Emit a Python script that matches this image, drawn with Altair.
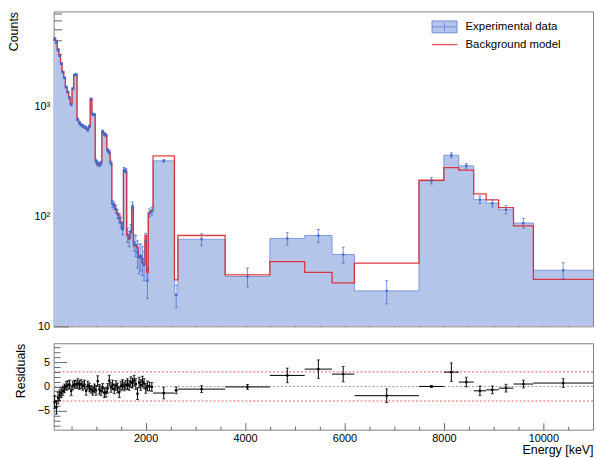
import altair as alt
import pandas as pd

# ---------------- data ----------------
bin_edges = [150, 190, 222, 255, 288, 320, 353, 386, 420, 453, 486, 520, 553, 586, 620, 653,
             686, 720, 753, 786, 820, 853, 886, 920, 953, 986, 1020, 1053, 1086, 1120, 1153,
             1186, 1220, 1253, 1286, 1320, 1353, 1386, 1420, 1453, 1486, 1520, 1553, 1586,
             1620, 1653, 1686, 1720, 1753, 1786, 1820, 1853, 1886, 1920, 1953, 1986, 2020,
             2053, 2100, 2150, 2580, 2650, 3600, 4500, 5200, 5750, 6200, 7500, 8000, 8300,
             8600, 8850, 9100, 9400, 9800, 11000]

data_counts = [4050, 3800, 3250, 2900, 2450, 2050, 1820, 1500, 1350, 1200,
               1040, 1450, 1930, 1950, 760, 710, 680, 665, 650, 638,
               612, 660, 1165, 850, 840, 318, 300, 296, 305, 592,
               560, 545, 400, 385, 306, 130, 125, 117, 105, 97,
               88, 77, 265, 260, 68, 63, 74, 125, 58, 55,
               47, 43, 44, 41, 37, 60, 26, 108, 112,
               320, 19.3, 62, 28.4, 63, 67, 45, 21, 211, 360, 288, 142, 132, 115, 87, 32.4]

data_errors = [70, 65, 55, 50, 45, 40, 35, 30, 28, 26,
               24, 30, 36, 36, 20, 19, 18, 18, 18, 17,
               17, 18, 26, 21, 21, 13, 13, 13, 13, 17,
               17, 16, 14, 14, 13, 10, 10, 10, 10, 10,
               10, 9, 13, 13, 10, 10, 10, 10, 10, 12,
               13, 13, 12, 12, 11, 10, 8, 9, 9,
               8, 4.5, 7.5, 5.5, 8, 9, 7.5, 5, 14, 18, 14, 11, 10, 10, 9, 5.5]

model_counts = [4200, 3950, 3330, 2960, 2490, 2070, 1830, 1500, 1345, 1195,
                1060, 1445, 1920, 1945, 755, 708, 676, 664, 647, 644,
                611, 662, 1175, 860, 844, 321, 295, 299, 308, 594,
                570, 553, 402, 378, 307, 129, 127, 116, 106, 102,
                88, 76, 265, 258, 67, 62, 71, 120, 54, 54,
                52, 42, 43, 38, 36, 67, 31, 108, 112,
                355, 26.5, 67, 29.4, 38.7, 31, 24.8, 37.5, 213, 278, 263, 160, 141, 120, 82, 26.7]

residuals = [-3.2, -4.3, -2.4, -1.8, -1.3, -0.9, -0.4, 0.1, 0.3, 0.4,
             -0.9, 0.2, 0.5, 0.4, 0.6, 0.3, 0.5, 0.1, 0.4, -0.9,
             0.2, -0.2, -0.6, -0.9, -0.4, -0.8, 1.1, -0.6, -0.9, -0.3,
             -1.3, -1.2, -0.4, 1.2, -0.2, 0.3, -0.5, 0.2, -0.3, -1.2,
             0.1, 0.4, 0.0, 0.3, 0.5, 0.2, 0.9, 0.7, 1.2, 0.5,
             -1.5, 0.8, 0.3, 1.0, 0.6, -0.4, 0.1, 0.0, -0.1,
             -1.36, -0.8, -0.55, -0.1, 2.27, 3.57, 2.54, -1.9, 0.0, 2.95, 0.9, -0.9, -0.7, -0.35, 0.5, 0.7]

residual_errors = [1.3, 1.4, 1.2, 1.1, 1.0, 1.0, 0.9, 0.9, 0.9, 0.9,
                   1.0, 0.9, 0.8, 0.8, 1.0, 0.9, 0.9, 0.9, 0.9, 0.9,
                   0.9, 0.9, 0.8, 0.9, 0.9, 1.0, 1.1, 1.0, 1.0, 0.9,
                   1.0, 1.0, 1.0, 1.1, 1.0, 1.0, 1.0, 1.0, 1.0, 1.1,
                   1.0, 1.0, 0.9, 0.9, 1.1, 1.0, 1.1, 1.0, 1.1, 1.1,
                   1.2, 1.1, 1.1, 1.1, 1.0, 1.0, 1.0, 0.9, 0.9,
                   1.2, 0.7, 0.7, 0.5, 1.5, 1.9, 1.6, 1.4, 0.2, 1.9, 1.0, 1.0, 0.8, 0.8, 0.8, 0.9]

series_names = ["Experimental data", "Background model"]
sigma_levels = [3, -3]
zero_level = [0]

x_range = [150, 11000]
y_range = [10, 7300]
res_range = [-8.9, 8.9]

x_major = [2000, 4000, 6000, 8000, 10000]
x_minor = [v for v in range(500, 11000, 500) if v % 2000 != 0]
y_major = [10, 100, 1000]
y_minor = [m * d for d in (10, 100, 1000) for m in range(2, 10) if m * d < 7300]
r_major = [-5, 0, 5]
r_minor = [v for v in range(-8, 9) if v % 5 != 0]

# ---------------- tables ----------------
lo = bin_edges[:-1]
hi = bin_edges[1:]
bins = pd.DataFrame({
    "lo": lo, "hi": hi,
    "center": [(a + b) / 2 for a, b in zip(lo, hi)],
    "counts": data_counts, "err": data_errors, "model": model_counts,
    "res": residuals, "rerr": residual_errors,
})
bins["elo"] = bins["counts"] - bins["err"]
bins["ehi"] = bins["counts"] + bins["err"]
bins["rlo"] = bins["res"] - bins["rerr"]
bins["rhi"] = bins["res"] + bins["rerr"]

rows = []
for i in range(len(lo)):
    for j, e in enumerate((lo[i], hi[i])):
        rows.append({"order": 2 * i + j, "x": e, "counts": data_counts[i],
                     "model": model_counts[i], "base": y_range[0]})
steps = pd.DataFrame(rows)

FONT = "Liberation Sans"
FILL = "#b4c5e9"
OUTLINE = "#7f9ad9"
BLUE = "#3f66cc"
RED = "#e0232b"
TICK = "#666666"

xs = alt.Scale(domain=x_range, nice=False, zero=False)
ys = alt.Scale(type="log", domain=y_range, nice=False)
rs = alt.Scale(domain=res_range, nice=False, zero=False)

base_ax = dict(domain=False, grid=False, tickColor=TICK, labelColor="black",
               labelFont=FONT, titleFont=FONT, titleFontWeight="normal",
               titleColor="black", labelFontSize=11, titleFontSize=12.5)

# ---------------- top panel ----------------
area = alt.Chart(steps).mark_area(color=FILL, opacity=1, clip=True).encode(
    x=alt.X("x:Q", scale=xs, sort=None, axis=alt.Axis(values=x_major, labels=False, tickSize=9, offset=-9,
                                                      orient="bottom", title=None, **base_ax)),
    y=alt.Y("counts:Q", scale=ys, stack=None, axis=alt.Axis(
        values=y_major, tickSize=15, offset=-15, orient="left",
        labelExpr="datum.value == 10 ? '10' : (datum.value == 100 ? '10²' : '10³')",
        labelPadding=4, title="Counts", titleAnchor="end", titlePadding=13,
        minExtent=35, maxExtent=35, **base_ax)),
    y2="base:Q",
)
hist_line = alt.Chart(steps).mark_line(color=OUTLINE, strokeWidth=1, clip=True).encode(
    x=alt.X("x:Q", scale=xs, axis=alt.Axis(values=x_minor, labels=False, tickSize=4.5, offset=-4.5,
                                           orient="bottom", title=None, **base_ax)),
    y=alt.Y("counts:Q", scale=ys, axis=alt.Axis(values=y_minor, labels=False, tickSize=8, offset=-8,
                                                orient="left", title=None, **base_ax)),
    order="order:Q",
)
model_line = alt.Chart(steps).mark_line(color=RED, strokeWidth=1.3, opacity=0.9, clip=True).encode(
    x=alt.X("x:Q", scale=xs, axis=None),
    y=alt.Y("model:Q", scale=ys, axis=None),
    order="order:Q",
)
err = alt.Chart(bins).mark_rule(color=BLUE, strokeWidth=1, opacity=0.7, clip=True).encode(
    x=alt.X("center:Q", scale=xs, axis=None),
    y=alt.Y("elo:Q", scale=ys, axis=None),
    y2="ehi:Q",
)
cap_lo = alt.Chart(bins).mark_tick(color=BLUE, orient="horizontal", size=3, thickness=1, opacity=0.7).encode(
    x=alt.X("center:Q", scale=xs, axis=None), y=alt.Y("elo:Q", scale=ys, axis=None))
cap_hi = alt.Chart(bins).mark_tick(color=BLUE, orient="horizontal", size=3, thickness=1, opacity=0.7).encode(
    x=alt.X("center:Q", scale=xs, axis=None), y=alt.Y("ehi:Q", scale=ys, axis=None))
pts = alt.Chart(bins).mark_square(color=BLUE, size=5, opacity=1).encode(
    x=alt.X("center:Q", scale=xs, axis=None), y=alt.Y("counts:Q", scale=ys, axis=None))

shape_rect = "M-1.8,-0.85L1.8,-0.85L1.8,0.85L-1.8,0.85Z M-1.8,0L1.8,0 M0,-0.6L0,0.6"
shape_line = "M-1.8,0L1.8,0"
leg = alt.Legend(title=None, orient="none", legendX=386, legendY=8, symbolSize=196,
                 labelFontSize=11.5, labelFont=FONT, labelColor="black", labelOffset=13.6,
                 padding=0, rowPadding=2, symbolStrokeWidth=1.0, symbolOpacity=1)
legend_layer = alt.Chart(pd.DataFrame({"series": series_names})).transform_filter(
    "datum.series == 'none'").mark_point(filled=True).encode(
    shape=alt.Shape("series:N", scale=alt.Scale(domain=series_names, range=[shape_rect, shape_line]), legend=leg),
    fill=alt.Fill("series:N", scale=alt.Scale(domain=series_names, range=[FILL, "transparent"]), legend=leg),
    stroke=alt.Stroke("series:N", scale=alt.Scale(domain=series_names, range=["#6f8cd6", RED]), legend=leg),
)

top = alt.layer(area, hist_line, model_line, err, cap_lo, cap_hi, pts, legend_layer).resolve_axis(
    x="independent", y="independent").properties(width=543, height=317)

# ---------------- bottom panel ----------------
sig = alt.Chart(pd.DataFrame({"level": sigma_levels})).mark_rule(
    color="#e06060", strokeDash=[2, 2], strokeWidth=1).encode(
    y=alt.Y("level:Q", scale=rs, axis=alt.Axis(
        values=r_major, tickSize=13, offset=-13, orient="left", labelPadding=4,
        title="Residuals", titleAnchor="end", titlePadding=13.5, minExtent=26, maxExtent=26, **base_ax)))
zero = alt.Chart(pd.DataFrame({"level": zero_level})).mark_rule(
    color="#9a9a9a", strokeDash=[2, 2], strokeWidth=1).encode(
    y=alt.Y("level:Q", scale=rs, axis=alt.Axis(values=r_minor, labels=False, tickSize=6.5, offset=-6.5,
                                               orient="left", title=None, **base_ax)))
hbar = alt.Chart(bins).mark_rule(color="black", strokeWidth=1, clip=True).encode(
    x=alt.X("lo:Q", scale=xs, axis=alt.Axis(values=x_major, format="d", tickSize=7, offset=-7, orient="bottom",
                                            labelPadding=3, title="Energy [keV]", titleAnchor="end",
                                            titlePadding=0, **base_ax)),
    x2="hi:Q",
    y=alt.Y("res:Q", scale=rs, axis=None),
)
vbar = alt.Chart(bins).mark_rule(color="black", strokeWidth=1, clip=True).encode(
    x=alt.X("center:Q", scale=xs, axis=alt.Axis(values=x_minor, labels=False, tickSize=3.5, offset=-3.5,
                                                orient="bottom", title=None, **base_ax)),
    y=alt.Y("rlo:Q", scale=rs, axis=None),
    y2="rhi:Q",
)
rcap_lo = alt.Chart(bins).mark_tick(color="black", orient="horizontal", size=3, thickness=1).encode(
    x=alt.X("center:Q", scale=xs, axis=None), y=alt.Y("rlo:Q", scale=rs, axis=None))
rcap_hi = alt.Chart(bins).mark_tick(color="black", orient="horizontal", size=3, thickness=1).encode(
    x=alt.X("center:Q", scale=xs, axis=None), y=alt.Y("rhi:Q", scale=rs, axis=None))
rpts = alt.Chart(bins).mark_square(color="black", size=5, opacity=1).encode(
    x=alt.X("center:Q", scale=xs, axis=None), y=alt.Y("res:Q", scale=rs, axis=None))

bottom = alt.layer(sig, zero, hbar, vbar, rcap_lo, rcap_hi, rpts).resolve_axis(
    x="independent", y="independent").properties(width=543, height=87)

chart = alt.vconcat(top, bottom, spacing=17, bounds="flush").properties(
    padding={"left": 7, "top": 9, "right": 2, "bottom": 2},
    background="white",
).configure_view(stroke="#808080", strokeWidth=1)

chart.save("out.html", embed_options={"renderer": "svg", "actions": False})
